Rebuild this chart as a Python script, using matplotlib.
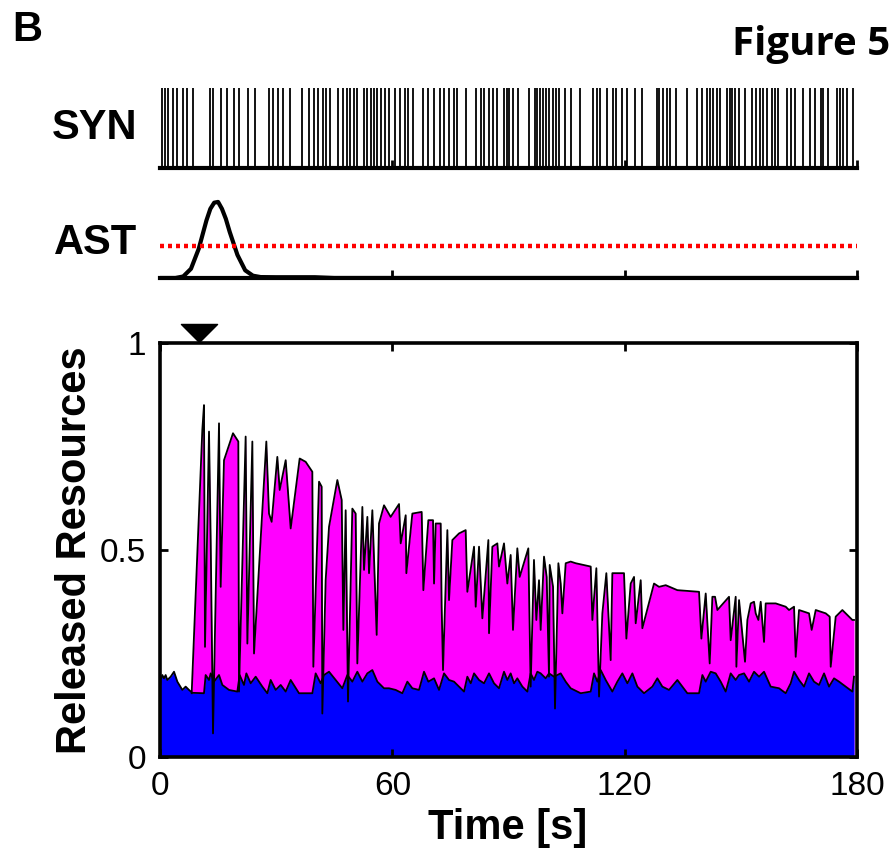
import numpy as np
import matplotlib
matplotlib.use("Agg")
import matplotlib.pyplot as plt
from matplotlib.path import Path

plt.rcParams['font.family'] = ['Liberation Sans', 'DejaVu Sans']

# ---------------- data ----------------
# presynaptic spike times (s)
syn_spikes = [0.43, 1.29, 2.15, 3.44, 4.48, 6.03, 7.06, 8.44, 12.91, 13.77, 15.67, 17.39,
              19.11, 20.49, 22.81, 24.54, 28.15, 29.10, 30.56, 31.68, 33.57, 36.59, 38.57,
              39.77, 40.89, 42.01, 42.87, 43.90, 46.06, 47.18, 48.21, 49.07, 50.10, 50.96,
              52.69, 53.55, 54.41, 55.27, 56.13, 56.99, 58.11, 59.23, 60.69, 61.98, 63.27,
              64.14, 65.25, 67.84, 69.30, 70.76, 72.31, 73.35, 74.72, 75.93, 76.79, 79.03,
              81.61, 82.82, 83.68, 85.05, 86.09, 86.95, 88.84, 89.53, 90.22, 91.25, 92.54,
              95.39, 96.85, 97.45, 98.14, 98.83, 99.69, 100.55, 101.41, 102.27, 103.13,
              104.60, 106.06, 108.47, 111.91, 112.95, 113.64, 115.53, 116.91, 117.77,
              119.23, 120.52, 122.68, 124.40, 128.27, 128.96, 130.00, 130.86, 131.71,
              133.26, 136.02, 138.60, 139.89, 141.18, 142.05, 142.91, 143.77, 144.63,
              146.35, 147.21, 147.64, 148.50, 149.62, 151.08, 152.81, 153.93, 154.96,
              155.82, 156.68, 157.97, 158.83, 159.69, 162.02, 162.88, 164.00, 166.15,
              167.87, 169.16, 170.63, 171.32, 172.61, 174.76, 175.62, 176.48, 177.34, 179.06]

# astrocytic signal (normalised) and threshold
ast_t = [0, 4, 6, 8, 10, 12, 13, 14, 15, 16, 17, 18, 20, 22, 24, 26, 30, 40, 45, 180]
ast_v = [0.0, 0.0, 0.02, 0.12, 0.38, 0.75, 0.9, 0.98, 0.99, 0.9, 0.77, 0.6, 0.3, 0.1,
         0.03, 0.012, 0.01, 0.01, 0.0, 0.0]
ast_threshold = 0.42
trigger_time = 10.2

# released resources: total (upper curve)
top_t = [8.18, 10.93, 11.36, 11.62, 12.66, 13.09, 13.69, 14.38, 15.24, 15.67, 16.53, 18.85,
         20.23, 20.40, 22.12, 22.56, 23.85, 24.28, 27.46, 28.15, 28.84, 30.30, 30.91, 32.46,
         33.75, 36.07, 37.62, 39.34, 39.60, 41.07, 41.75, 41.92, 42.78, 43.65, 45.80, 46.92,
         47.35, 47.95, 48.55, 49.67, 50.53, 50.96, 52.26, 52.69, 53.55, 53.98, 54.84, 55.96,
         56.56, 57.85, 59.57, 61.73, 62.16, 63.45, 63.62, 65.17, 67.58, 68.01, 69.30, 70.51,
         70.77, 71.20, 72.49, 72.74, 73.09, 74.21, 74.64, 75.50, 77.22, 78.94, 79.37, 81.10,
         81.53, 82.39, 83.25, 84.80, 84.97, 85.83, 87.12, 87.55, 88.84, 89.70, 90.56, 91.16,
         92.28, 92.89, 95.12, 95.72, 96.58, 97.19, 97.88, 98.31, 99.17, 99.86, 100.46,
         100.64, 101.50, 102.01, 102.88, 103.48, 103.91, 104.77, 106.06, 107.36, 111.23,
         111.66, 112.69, 113.38, 114.24, 115.27, 116.39, 116.82, 119.83, 120.44, 121.56,
         122.42, 122.85, 124.14, 124.57, 127.58, 128.88, 130.60, 133.61, 139.21, 139.81,
         140.93, 141.96, 142.65, 143.34, 143.94, 146.95, 147.38, 148.67, 148.85, 149.54,
         151.08, 151.69, 152.55, 153.41, 153.84, 154.53, 155.13, 155.99, 156.42, 159.01,
         161.59, 162.45, 163.74, 164.17, 165.03, 167.61, 168.30, 169.34, 171.92, 172.95,
         173.21, 174.50, 176.22, 178.80, 179.23]
top_v = [0.154, 0.790, 0.850, 0.266, 0.786, 0.524, 0.057, 0.395, 0.806, 0.411, 0.717, 0.782,
         0.762, 0.158, 0.774, 0.274, 0.762, 0.250, 0.762, 0.588, 0.568, 0.725, 0.645, 0.717,
         0.552, 0.721, 0.713, 0.689, 0.218, 0.665, 0.653, 0.105, 0.427, 0.556, 0.669, 0.621,
         0.307, 0.596, 0.134, 0.600, 0.588, 0.226, 0.604, 0.452, 0.580, 0.444, 0.596, 0.295,
         0.564, 0.608, 0.580, 0.611, 0.516, 0.584, 0.444, 0.588, 0.592, 0.403, 0.572, 0.572,
         0.419, 0.564, 0.564, 0.363, 0.210, 0.548, 0.379, 0.524, 0.540, 0.548, 0.399, 0.508,
         0.363, 0.508, 0.335, 0.524, 0.299, 0.508, 0.516, 0.460, 0.516, 0.419, 0.488, 0.307,
         0.504, 0.435, 0.504, 0.170, 0.476, 0.331, 0.427, 0.307, 0.484, 0.435, 0.194,
         0.464, 0.411, 0.117, 0.468, 0.419, 0.347, 0.468, 0.472, 0.468, 0.460,
         0.331, 0.456, 0.146, 0.347, 0.444, 0.234, 0.444, 0.444, 0.286, 0.419,
         0.435, 0.323, 0.427, 0.311, 0.419, 0.411, 0.415, 0.403, 0.399, 0.286,
         0.395, 0.226, 0.387, 0.387, 0.355, 0.387, 0.282, 0.387, 0.218, 0.379,
         0.230, 0.331, 0.371, 0.375, 0.347, 0.331, 0.375, 0.278, 0.371, 0.371,
         0.363, 0.355, 0.363, 0.242, 0.355, 0.347, 0.307, 0.355, 0.347, 0.339,
         0.218, 0.339, 0.355, 0.331, 0.331]

# released resources: baseline (lower curve)
base_t = [0.0, 0.17, 0.60, 1.03, 1.46, 1.89, 2.76, 3.62, 4.48, 5.77, 6.63, 7.49, 8.35, 11.36,
          11.79, 12.66, 13.09, 13.95, 15.24, 16.10, 17.82, 19.97, 20.57, 21.69, 22.30, 23.42,
          24.71, 26.43, 27.72, 28.58, 29.87, 31.17, 32.46, 33.75, 35.90, 39.34, 40.20, 41.49,
          42.36, 43.65, 45.37, 47.09, 48.38, 49.67, 50.96, 52.26, 53.55, 54.84, 56.13, 57.85,
          59.14, 60.86, 62.59, 63.88, 65.17, 66.89, 68.18, 69.30, 70.77, 72.06, 73.35, 74.64,
          75.93, 77.22, 78.51, 79.37, 80.25, 81.10, 82.39, 83.68, 84.97, 86.26, 87.55, 88.84,
          89.70, 90.56, 91.43, 92.28, 93.58, 94.87, 95.72, 96.58, 97.45, 98.31, 99.60, 100.46,
          101.76, 103.48, 104.77, 106.06, 108.64, 111.23, 112.09, 112.95, 113.81, 115.10,
          116.82, 118.11, 119.40, 120.70, 121.99, 123.28, 125.00, 127.15, 128.44, 129.73,
          131.46, 133.61, 136.19, 139.21, 140.07, 140.93, 142.22, 143.51, 144.80, 146.09,
          147.38, 148.67, 149.54, 150.83, 152.12, 153.41, 154.70, 155.99, 157.71, 159.87,
          161.59, 162.88, 163.74, 165.03, 166.32, 167.61, 168.90, 170.20, 171.49, 172.78,
          174.07, 175.36, 177.09, 178.80, 179.23]
base_v = [0.170, 0.186, 0.198, 0.190, 0.198, 0.186, 0.194, 0.206, 0.182, 0.162, 0.170, 0.162,
          0.155, 0.154, 0.198, 0.186, 0.202, 0.182, 0.198, 0.174, 0.162, 0.158, 0.198, 0.174,
          0.202, 0.178, 0.194, 0.170, 0.154, 0.186, 0.162, 0.174, 0.158, 0.186, 0.154, 0.154,
          0.202, 0.178, 0.198, 0.206, 0.186, 0.166, 0.198, 0.182, 0.206, 0.182, 0.202, 0.210,
          0.182, 0.166, 0.166, 0.162, 0.154, 0.182, 0.166, 0.162, 0.206, 0.182, 0.190, 0.162,
          0.202, 0.186, 0.182, 0.170, 0.158, 0.194, 0.178, 0.202, 0.186, 0.178, 0.202, 0.178,
          0.166, 0.206, 0.186, 0.202, 0.178, 0.190, 0.170, 0.158, 0.202, 0.186, 0.206, 0.202,
          0.190, 0.202, 0.194, 0.202, 0.182, 0.166, 0.154, 0.158, 0.202, 0.182, 0.210, 0.186,
          0.158, 0.182, 0.202, 0.178, 0.202, 0.170, 0.154, 0.170, 0.190, 0.170, 0.162, 0.186,
          0.154, 0.154, 0.198, 0.182, 0.206, 0.202, 0.182, 0.158, 0.202, 0.186, 0.198, 0.202,
          0.182, 0.206, 0.194, 0.206, 0.170, 0.166, 0.154, 0.178, 0.206, 0.186, 0.170, 0.202,
          0.182, 0.174, 0.202, 0.170, 0.190, 0.182, 0.170, 0.158, 0.194]

xticks = [0, 60, 120, 180]
yticks = [0, 0.5, 1]
ytick_labels = ['0', '0.5', '1']

# ---------------- figure ----------------
W, H = 894, 850
fig = plt.figure(figsize=(W / 100, H / 100), dpi=100)

def fx(px):
    return px / W

def fy(py):
    return 1 - py / H

L, R = 160, 857
ax_main = fig.add_axes([fx(L), fy(757), fx(R) - fx(L), fy(343) - fy(757)])
ax_syn = fig.add_axes([fx(L), fy(168), fx(R) - fx(L), fy(88) - fy(168)])
ax_ast = fig.add_axes([fx(L), fy(278), fx(R) - fx(L), fy(195) - fy(278)])

# SYN raster
ax_syn.vlines(syn_spikes, 0, 1, color='black', lw=1.3)
ax_syn.set_xlim(0, 180)
ax_syn.set_ylim(0, 1)

# AST trace
ax_ast.plot(ast_t, ast_v, color='black', lw=3.0, solid_capstyle='butt')
ax_ast.axhline(ast_threshold, color='#ff0000', lw=3.2, linestyle=(0, (0.9, 0.9)))
ax_ast.set_xlim(0, 180)
ax_ast.set_ylim(0, 1.08)

for a in (ax_syn, ax_ast):
    for s in ('top', 'left', 'right'):
        a.spines[s].set_visible(False)
    a.spines['bottom'].set_linewidth(3)
    a.set_yticks([])
    a.set_xticks(xticks[1:])
    a.tick_params(axis='x', direction='in', length=6, width=2, labelbottom=False)
    a.patch.set_alpha(0)

# main panel
tt = np.asarray(top_t)
bt = np.asarray(base_t)
ax_main.fill_between(tt, 0, top_v, color='#ff00ff', lw=0)
ax_main.fill_between(bt, 0, base_v, color='#0000ff', lw=0)
ax_main.plot(bt, base_v, color='black', lw=1.3)
ax_main.plot(tt, top_v, color='black', lw=1.3)
ax_main.set_xlim(0, 180)
ax_main.set_ylim(0, 1)
ax_main.set_xticks(xticks)
ax_main.set_yticks(yticks)
ax_main.set_yticklabels(ytick_labels)
ax_main.tick_params(direction='in', length=6, width=2, labelsize=24, top=True, right=True,
                    pad=10)
for s in ax_main.spines.values():
    s.set_linewidth(2.6)

# trigger marker
tri = Path([(-1, 0.5), (1, 0.5), (0, -0.5), (-1, 0.5)],
           [Path.MOVETO, Path.LINETO, Path.LINETO, Path.CLOSEPOLY])
ax_main.plot([trigger_time], [1.024], marker=tri, markersize=26, color='black',
             clip_on=False, linestyle='none')

# labels
fig.text(fx(75), fy(550), 'Released Resources', rotation=90, ha='center', va='center',
         fontsize=30, fontweight='bold')
fig.text(fx(508), fy(828), 'Time [s]', ha='center', va='center', fontsize=30,
         fontweight='bold')
fig.text(fx(137), fy(128), 'SYN', ha='right', va='center', fontsize=30, fontweight='bold')
fig.text(fx(137), fy(243), 'AST', ha='right', va='center', fontsize=30, fontweight='bold')
fig.text(fx(12), fy(30), 'B', ha='left', va='center', fontsize=30, fontweight='bold')
fig.text(fx(890), fy(44), 'Figure 5', ha='right', va='center', fontsize=29,
         fontweight='bold', family=['Open Sans', 'DejaVu Sans'])

fig.savefig('out.png', dpi=100)
